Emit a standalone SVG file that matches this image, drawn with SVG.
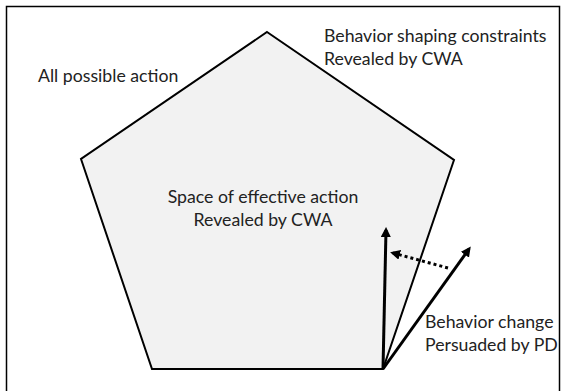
<svg xmlns="http://www.w3.org/2000/svg" width="565" height="391" viewBox="0 0 565 391">
<style>
  .lbl { font-family: Lato, "Open Sans", "Liberation Sans", sans-serif; font-size: 17.7px; fill: #222; }
  .solid { stroke: #000; stroke-width: 3; fill: none; }
  .dash { stroke: #000; stroke-width: 3; fill: none; stroke-dasharray: 3 3; }
</style>
<defs>
  <marker id="ah" markerWidth="10" markerHeight="10" refX="7" refY="5" orient="auto" markerUnits="userSpaceOnUse">
    <path d="M0,0 L10,5 L0,10 Z" fill="#000"/>
  </marker>
</defs>
<rect x="0" y="0" width="565" height="391" fill="#fff"/>
<rect x="6.5" y="6.5" width="553" height="400" fill="none" stroke="#000" stroke-width="1.5"/>
<g id="pentagon">
  <polygon points="267,32 454,160 383,369 152,369 81,159" fill="#f2f2f2" stroke="#000" stroke-width="2"/>
</g>
<g id="connectors">
  <line class="solid" x1="383" y1="369" x2="386" y2="230" marker-end="url(#ah)"/>
  <line class="solid" x1="383" y1="369" x2="469" y2="249" marker-end="url(#ah)"/>
  <line class="dash" x1="448" y1="268" x2="393" y2="253" marker-end="url(#ah)"/>
</g>
<g id="label-all">
  <text class="lbl" x="38" y="82">All possible action</text>
</g>
<g id="label-constraints">
  <text class="lbl" x="324" y="42">Behavior shaping constraints</text>
  <text class="lbl" x="324" y="65">Revealed by CWA</text>
</g>
<g id="label-space">
  <text class="lbl" x="263" y="203" text-anchor="middle">Space of effective action</text>
  <text class="lbl" x="263" y="226" text-anchor="middle">Revealed by CWA</text>
</g>
<g id="label-change">
  <text class="lbl" x="425" y="328">Behavior change</text>
  <text class="lbl" x="425" y="351">Persuaded by PD</text>
</g>
</svg>
